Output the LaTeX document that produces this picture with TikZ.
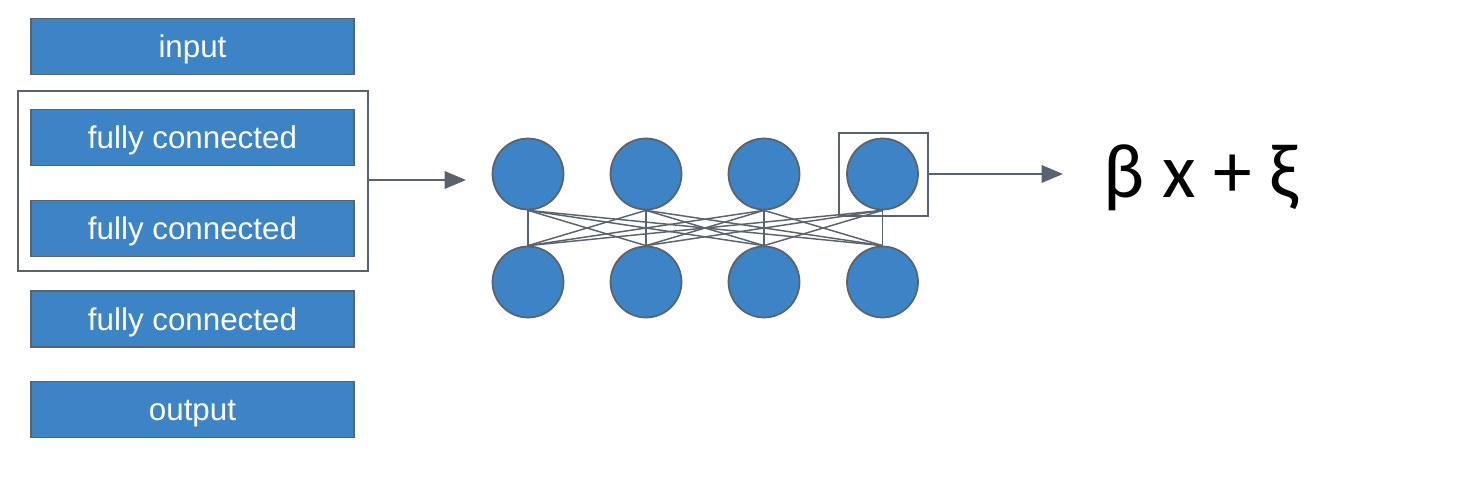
\documentclass[tikz,border=0pt]{standalone}
\usepackage{fontspec}
\setmainfont{Liberation Sans}
\newfontfamily\formulafont{Carlito}
\usetikzlibrary{arrows.meta}
\definecolor{boxblue}{HTML}{3D84C6}
\definecolor{edgegray}{HTML}{5A636D}
\tikzset{
  layerbox/.style={draw=edgegray, line width=1.2pt, fill=boxblue, text=white,
    minimum width=323*0.75pt, minimum height=56*0.75pt, inner sep=0pt,
    text height=17.2pt, text depth=0pt,
    font=\fontsize{23.5}{26}\selectfont},
  neuron/.style={circle, draw=edgegray, line width=1.3pt, fill=boxblue,
    minimum size=71*0.75pt, inner sep=0pt},
  frame/.style={draw=edgegray, line width=1.1pt},
  link/.style={draw=edgegray, line width=1.1pt},
  flow/.style={draw=edgegray, line width=1.8pt, -{Triangle[length=16pt,width=13pt]}}
}
\begin{document}
\begin{tikzpicture}[x=0.75pt, y=-0.75pt]
\useasboundingbox (0,0) rectangle (1463,481);
% layer boxes
\node[layerbox] (in)  at (192.5,46.5)  {input};
\node[layerbox] (fc1) at (192.5,137.5) {fully connected};
\node[layerbox] (fc2) at (192.5,228.5) {fully connected};
\node[layerbox] (fc3) at (192.5,319)   {fully connected};
\node[layerbox] (out) at (192.5,409.5) {output};
% group frame
\node[frame, minimum width=350*0.75pt, minimum height=180*0.75pt, inner sep=0pt] (grp) at (193,181) {};
% neurons
\foreach \i/\x in {1/528,2/646,3/764,4/882.5}{
  \node[neuron] (t\i) at (\x,174) {};
  \node[neuron] (b\i) at (\x,282) {};
}
\foreach \i in {1,...,4}{
  \foreach \j in {1,...,4}{
    \draw[link] (t\i.south) -- (b\j.north);
  }
}
% selection square
\node[frame, minimum width=89*0.75pt, minimum height=83*0.75pt, inner sep=0pt] (sel) at (883.5,174.5) {};
% formula
\node[font=\formulafont\fontsize{58}{64}\selectfont, anchor=base] (eq) at (1201,198) {β x + ξ};
% arrows
\coordinate (netin) at (466,180);
\draw[flow] (grp.east |- netin) -- (netin);
\coordinate (eqin) at (1063,174);
\draw[flow] (sel.east |- eqin) -- (eqin);
\end{tikzpicture}
\end{document}
